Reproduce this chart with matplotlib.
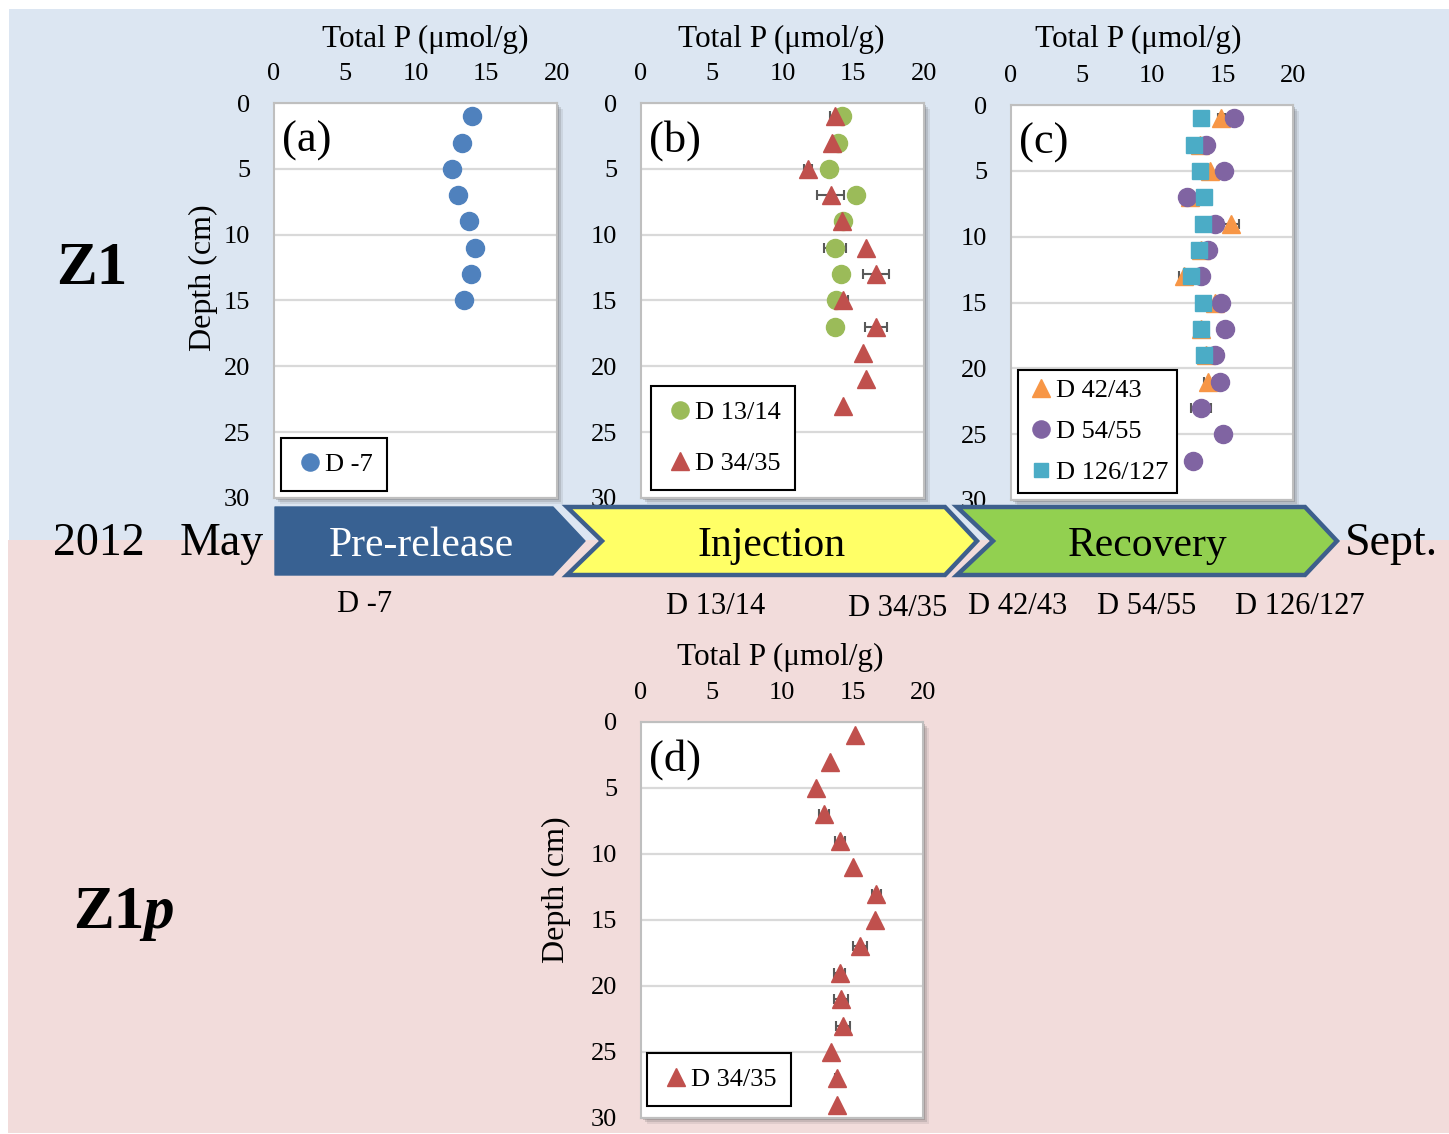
import matplotlib
matplotlib.use('Agg')
import matplotlib.pyplot as plt
from matplotlib.patches import Rectangle, Polygon

plt.rcParams['font.family'] = ['Liberation Serif', 'DejaVu Serif']

W, H = 1449, 1134

# ---------------- data ----------------
xticks = [0, 5, 10, 15, 20]
yticks = [0, 5, 10, 15, 20, 25, 30]

depth_a = [1, 3, 5, 7, 9, 11, 13, 15]
tp_dm7 = [14.0, 13.3, 12.6, 13.0, 13.8, 14.2, 13.9, 13.4]

depth_b13 = [1, 3, 5, 7, 9, 11, 13, 15, 17]
tp_d13 = [14.2, 13.9, 13.3, 15.2, 14.3, 13.7, 14.1, 13.8, 13.7]
err_d13 = [0, 0, 0, 0, 0.3, 0.8, 0, 0, 0]

depth_b34 = [1, 3, 5, 7, 9, 11, 13, 15, 17, 19, 21, 23]
tp_d34 = [13.7, 13.5, 11.8, 13.4, 14.2, 15.9, 16.6, 14.3, 16.6, 15.7, 15.9, 14.3]
err_d34 = [0.35, 0, 0.3, 0.95, 0, 0, 0.9, 0.35, 0.75, 0, 0, 0]

depth_c42 = [1, 3, 5, 7, 9, 11, 13, 15, 17, 19, 21]
tp_d42 = [14.9, 13.4, 14.1, 12.7, 15.6, 13.5, 12.3, 14.5, 13.5, 13.8, 14.0]
err_d42 = [0.25, 0, 0, 0, 0.55, 0, 0.35, 0, 0, 0, 0.33]

depth_c54 = [1, 3, 5, 7, 9, 11, 13, 15, 17, 19, 21, 23, 25, 27]
tp_d54 = [15.8, 13.8, 15.1, 12.5, 14.5, 14.0, 13.5, 14.9, 15.2, 14.5, 14.8, 13.5, 15.0, 12.9]
err_d54 = [0, 0, 0, 0, 0, 0, 0, 0, 0, 0.52, 0, 0.7, 0, 0]

depth_c126 = [1, 3, 5, 7, 9, 11, 13, 15, 17, 19]
tp_d126 = [13.5, 13.0, 13.4, 13.7, 13.6, 13.3, 12.8, 13.6, 13.5, 13.7]
err_d126 = [0, 0, 0, 0, 0, 0, 0, 0, 0, 0]

depth_d = [1, 3, 5, 7, 9, 11, 13, 15, 17, 19, 21, 23, 25, 27, 29]
tp_z1p = [15.2, 13.4, 12.4, 13.0, 14.1, 15.0, 16.7, 16.6, 15.5, 14.1, 14.2, 14.3, 13.5, 13.9, 13.9]
err_z1p = [0, 0, 0, 0.35, 0.35, 0, 0.35, 0, 0.5, 0.4, 0.5, 0.5, 0, 0.15, 0]

phases = ['Pre-release', 'Injection', 'Recovery']
sample_days = ['D -7', 'D 13/14', 'D 34/35', 'D 42/43', 'D 54/55', 'D 126/127']

# ---------------- style ----------------
C_BLUE = '#4f81bd'; C_GREEN = '#9bbb59'; C_RED = '#c0504d'
C_ORANGE = '#f79646'; C_PURPLE = '#8064a2'; C_CYAN = '#4bacc6'
ECOL = '#595959'

fig = plt.figure(figsize=(W / 100, H / 100), dpi=100)
fig.patch.set_facecolor('white')

# background axes (pixel coords)
bg = fig.add_axes([0, 0, 1, 1], zorder=-10)
bg.set_xlim(0, W); bg.set_ylim(H, 0); bg.axis('off')
bg.add_patch(Rectangle((9, 9), W - 9, 540 - 9, color='#dce6f2', lw=0))
bg.add_patch(Rectangle((8, 540), W - 8, H - 1 - 540, color='#f2dcdb', lw=0))

boxes = {
    'a': (274, 103, 557, 498),
    'b': (641, 103, 924, 498),
    'c': (1011, 105, 1293, 500),
    'd': (641, 722, 923, 1118),
}
for (l, t, r, b) in boxes.values():
    for k, a in [(6, 0.12), (4, 0.2), (2, 0.3)]:
        bg.add_patch(Rectangle((l + k, t + k), r - l, b - t, color='#606060', alpha=a, lw=0))


def make_ax(key):
    l, t, r, b = boxes[key]
    ax = fig.add_axes([l / W, 1 - b / H, (r - l) / W, (b - t) / H], zorder=1)
    ax.set_facecolor('white')
    ax.set_xlim(0, 20); ax.set_ylim(30, 0)
    ax.set_xticks(xticks); ax.set_yticks(yticks)
    ax.xaxis.tick_top()
    ax.tick_params(axis='x', length=0, labelsize=19, pad=13)
    ax.tick_params(axis='y', length=0, labelsize=19, pad=17)
    ax.grid(axis='y', color='#d9d9d9', lw=1.6)
    ax.set_axisbelow(True)
    for s in ax.spines.values():
        s.set_color('#bfbfbf'); s.set_linewidth(1.5)
    ax.text(0.03, 0.905, f'({key})', transform=ax.transAxes, fontsize=32,
            ha='left', va='center')
    return ax


def series(ax, x, y, err, marker, color, ms, label):
    if err is not None and any(e > 0 for e in err):
        ax.errorbar(x, y, xerr=err, fmt='none', ecolor=ECOL, elinewidth=1.5,
                    capsize=3.6, capthick=1.5, zorder=2)
    h, = ax.plot(x, y, linestyle='none', marker=marker, color=color, ms=ms,
                 mec=color, label=label, zorder=3, clip_on=False)
    return h


def legend(ax, handles, x, y, spacing, bpad=0.55):
    leg = ax.legend(handles=handles, loc='upper left',
                    bbox_to_anchor=(x / W, 1 - y / H), bbox_transform=fig.transFigure,
                    fontsize=19, frameon=True, fancybox=False, framealpha=1,
                    edgecolor='black', borderpad=bpad, handlelength=1.1,
                    handletextpad=0.0, labelspacing=spacing, borderaxespad=0,
                    markerscale=0.95)
    leg.get_frame().set_linewidth(1.5)
    return leg


# (a)
ax_a = make_ax('a')
h = series(ax_a, tp_dm7, depth_a, None, 'o', C_BLUE, 13, 'D -7')
legend(ax_a, [h], 281, 438, 0.5)

# (b)
ax_b = make_ax('b')
h1 = series(ax_b, tp_d13, depth_b13, err_d13, 'o', C_GREEN, 13, 'D 13/14')
h2 = series(ax_b, tp_d34, depth_b34, err_d34, '^', C_RED, 13, 'D 34/35')
legend(ax_b, [h1, h2], 651, 386, 1.05)

# (c)
ax_c = make_ax('c')
h1 = series(ax_c, tp_d42, depth_c42, err_d42, '^', C_ORANGE, 13, 'D 42/43')
h2 = series(ax_c, tp_d54, depth_c54, err_d54, 'o', C_PURPLE, 13, 'D 54/55')
h3 = series(ax_c, tp_d126, depth_c126, err_d126, 's', C_CYAN, 11, 'D 126/127')
legend(ax_c, [h1, h2, h3], 1018, 370, 0.66, bpad=0.33)

# (d)
ax_d = make_ax('d')
h = series(ax_d, tp_z1p, depth_d, err_z1p, '^', C_RED, 13, 'D 34/35')
legend(ax_d, [h], 647, 1053, 0.5)

# overlay axes (pixel coords) for timeline and annotations
ov = fig.add_axes([0, 0, 1, 1], zorder=10)
ov.set_xlim(0, W); ov.set_ylim(H, 0); ov.axis('off')
ov.patch.set_alpha(0)

# axis titles
for cx, cy in [(425, 39), (781, 39), (1138, 39), (780, 657)]:
    ov.text(cx, cy, 'Total P (μmol/g)', fontsize=22.5, ha='center', va='center')
for cx, cy in [(203, 278), (556, 890)]:
    ov.text(cx, cy, 'Depth (cm)', fontsize=23, ha='center', va='center', rotation=90)

# timeline arrows
top, bot, mid = 507, 575, 541
ov.add_patch(Polygon([(275, top), (553, top), (585, mid), (553, bot), (275, bot)],
                     closed=True, facecolor='#386192', edgecolor='#386192', lw=1, joinstyle='round'))
ov.add_patch(Polygon([(567, top), (945, top), (977, mid), (945, bot), (567, bot), (602, mid)],
                     closed=True, facecolor='#ffff66', edgecolor='#3d5f8c', lw=3.2))
ov.add_patch(Polygon([(957, top), (1305, top), (1337, mid), (1305, bot), (957, bot), (993, mid)],
                     closed=True, facecolor='#92d050', edgecolor='#3d5f8c', lw=3.2))
ov.text(421, 546, phases[0], fontsize=30, color='white', ha='center', va='center')
ov.text(772, 546, phases[1], fontsize=30, color='black', ha='center', va='center')
ov.text(1148, 546, phases[2], fontsize=30, color='black', ha='center', va='center')

ov.text(99, 544, '2012', fontsize=33, ha='center', va='center')
ov.text(222, 544, 'May', fontsize=33, ha='center', va='center')
ov.text(1391, 544, 'Sept.', fontsize=33, ha='center', va='center')

for lab, cx, cy in zip(sample_days, [365, 716, 898, 1018, 1147, 1300],
                       [604, 606, 608, 606, 606, 606]):
    ov.text(cx, cy, lab, fontsize=22, ha='center', va='center')

# zone labels
ov.text(56, 284, 'Z1', fontsize=44, fontweight='bold', ha='left', va='baseline')
ov.text(73, 928, 'Z1', fontsize=44, fontweight='bold', ha='left', va='baseline')
ov.text(143, 928, 'p', fontsize=44, fontweight='bold', fontstyle='italic',
        ha='left', va='baseline')

fig.savefig('out.png', dpi=100)
